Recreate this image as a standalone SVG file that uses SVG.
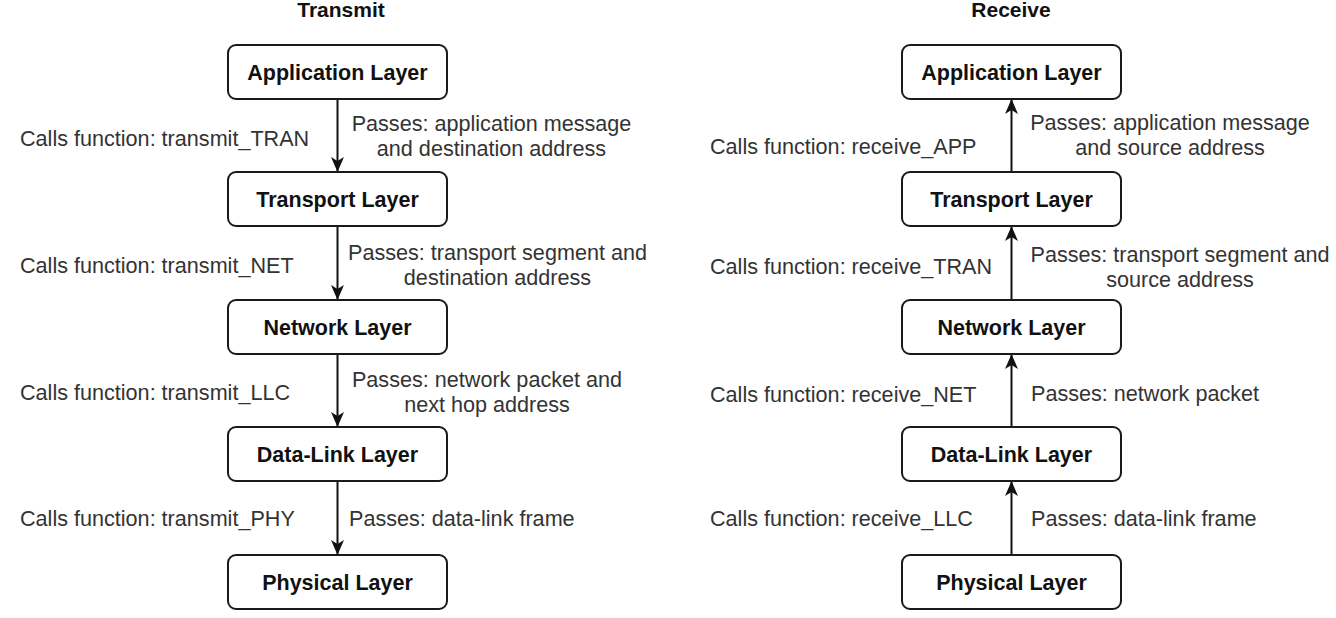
<svg xmlns="http://www.w3.org/2000/svg" width="1336" height="618" viewBox="0 0 1336 618">
<style>
.box{fill:#fff;stroke:#1a1a1a;stroke-width:2}
.lbl{font-family:"Liberation Sans",Arial,sans-serif;font-weight:bold;font-size:21.5px;fill:#111;text-anchor:middle}
.ttl{font-family:"Liberation Sans",Arial,sans-serif;font-weight:bold;font-size:21px;fill:#111;text-anchor:middle}
.txt{font-family:"Liberation Sans",Arial,sans-serif;font-size:21.6px;fill:#333}
.mid{text-anchor:middle}
.edge{stroke:#111;stroke-width:2;fill:none;marker-end:url(#ah)}
</style>
<defs>
<marker id="ah" markerUnits="userSpaceOnUse" markerWidth="16" markerHeight="14" viewBox="0 0 16 14" refX="15" refY="7" orient="auto">
<path d="M0,0.5 L15,7 L0,13.5 L4,7 Z" fill="#111"/>
</marker>
</defs>
<rect width="1336" height="618" fill="#fff"/>
<text class="ttl" x="341" y="17">Transmit</text>
<text class="ttl" x="1011" y="17">Receive</text>
<g id="connectors">
<line class="edge" x1="337.5" y1="99" x2="337.5" y2="172"/>
<line class="edge" x1="337.5" y1="226" x2="337.5" y2="300"/>
<line class="edge" x1="337.5" y1="354" x2="337.5" y2="427"/>
<line class="edge" x1="337.5" y1="481" x2="337.5" y2="555"/>
<line class="edge" x1="1011.5" y1="172" x2="1011.5" y2="99"/>
<line class="edge" x1="1011.5" y1="300" x2="1011.5" y2="226"/>
<line class="edge" x1="1011.5" y1="427" x2="1011.5" y2="354"/>
<line class="edge" x1="1011.5" y1="555" x2="1011.5" y2="481"/>
</g>
<g id="t-app"><rect class="box" x="228" y="45" width="219" height="54" rx="8"/><text class="lbl" x="337.5" y="80">Application Layer</text></g>
<g id="t-tran"><rect class="box" x="228" y="172" width="219" height="54" rx="8"/><text class="lbl" x="337.5" y="207">Transport Layer</text></g>
<g id="t-net"><rect class="box" x="228" y="300" width="219" height="54" rx="8"/><text class="lbl" x="337.5" y="335">Network Layer</text></g>
<g id="t-dl"><rect class="box" x="228" y="427" width="219" height="54" rx="8"/><text class="lbl" x="337.5" y="462">Data-Link Layer</text></g>
<g id="t-phy"><rect class="box" x="228" y="555" width="219" height="54" rx="8"/><text class="lbl" x="337.5" y="590">Physical Layer</text></g>
<g id="r-app"><rect class="box" x="902" y="45" width="219" height="54" rx="8"/><text class="lbl" x="1011.5" y="80">Application Layer</text></g>
<g id="r-tran"><rect class="box" x="902" y="172" width="219" height="54" rx="8"/><text class="lbl" x="1011.5" y="207">Transport Layer</text></g>
<g id="r-net"><rect class="box" x="902" y="300" width="219" height="54" rx="8"/><text class="lbl" x="1011.5" y="335">Network Layer</text></g>
<g id="r-dl"><rect class="box" x="902" y="427" width="219" height="54" rx="8"/><text class="lbl" x="1011.5" y="462">Data-Link Layer</text></g>
<g id="r-phy"><rect class="box" x="902" y="555" width="219" height="54" rx="8"/><text class="lbl" x="1011.5" y="590">Physical Layer</text></g>
<g id="labels">
<text class="txt" x="20" y="146">Calls function: transmit_TRAN</text>
<text class="txt" x="20" y="273">Calls function: transmit_NET</text>
<text class="txt" x="20" y="400">Calls function: transmit_LLC</text>
<text class="txt" x="20" y="526">Calls function: transmit_PHY</text>
<text class="txt mid" x="491.5" y="131">Passes: application message</text>
<text class="txt mid" x="491.5" y="156">and destination address</text>
<text class="txt mid" x="497.5" y="260">Passes: transport segment and</text>
<text class="txt mid" x="497.5" y="285">destination address</text>
<text class="txt mid" x="487" y="387">Passes: network packet and</text>
<text class="txt mid" x="487" y="412">next hop address</text>
<text class="txt" x="349" y="526">Passes: data-link frame</text>
<text class="txt" x="710" y="154">Calls function: receive_APP</text>
<text class="txt" x="710" y="274">Calls function: receive_TRAN</text>
<text class="txt" x="710" y="402">Calls function: receive_NET</text>
<text class="txt" x="710" y="526">Calls function: receive_LLC</text>
<text class="txt mid" x="1170" y="130">Passes: application message</text>
<text class="txt mid" x="1170" y="155">and source address</text>
<text class="txt mid" x="1180" y="262">Passes: transport segment and</text>
<text class="txt mid" x="1180" y="287">source address</text>
<text class="txt" x="1031" y="401">Passes: network packet</text>
<text class="txt" x="1031" y="526">Passes: data-link frame</text>
</g>
</svg>
